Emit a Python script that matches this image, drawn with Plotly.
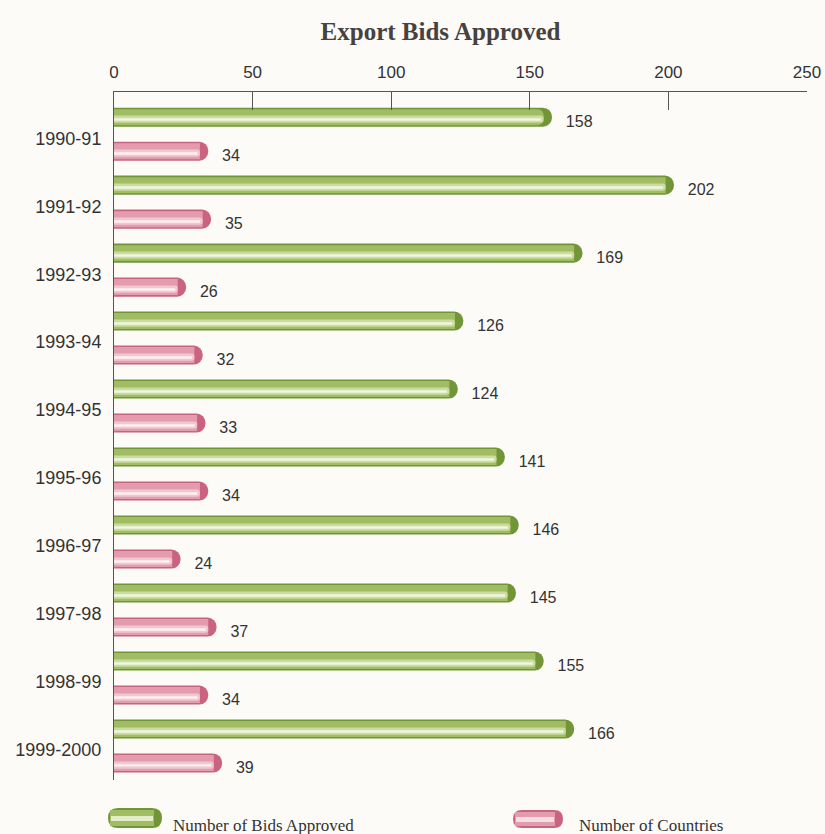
import plotly.graph_objects as go

# Export bids approved per financial year
years = ["1990-91", "1991-92", "1992-93", "1993-94", "1994-95",
         "1995-96", "1996-97", "1997-98", "1998-99", "1999-2000"]
bids_approved = [158, 202, 169, 126, 124, 141, 146, 145, 155, 166]
num_countries = [34, 35, 26, 32, 33, 34, 24, 37, 34, 39]
x_ticks = [0, 50, 100, 150, 200, 250]

# row positions: each year gets a green row followed by a pink row
green_pos = [2 * i for i in range(len(years))]
pink_pos = [2 * i + 1 for i in range(len(years))]
label_pos = [2 * i + 0.62 for i in range(len(years))]

BAR_W = 0.56
CAP = 3.0  # length of the darker end cap, in axis units

SANS = "Liberation Sans, Arial, sans-serif"
SERIF = "Liberation Serif, DejaVu Serif, serif"

fig = go.Figure()


def cylinder(values, pos, dark, mid, light, shine, name):
    """Layered horizontal bars giving a tube-like look."""
    inner = [v - CAP for v in values]
    # outer body (dark) — full value, rounded end
    fig.add_trace(go.Bar(x=values, y=pos, orientation="h", width=BAR_W,
                         marker=dict(color=dark, line_width=0, cornerradius=9),
                         name=name, showlegend=False, hoverinfo="x"))
    # main body tone
    fig.add_trace(go.Bar(x=inner, y=pos, orientation="h",
                         width=BAR_W * 0.84,
                         marker=dict(color=mid, line_width=0, cornerradius=6),
                         showlegend=False, hoverinfo="skip"))
    # light band
    fig.add_trace(go.Bar(x=inner, y=[p + 0.06 for p in pos], orientation="h",
                         width=BAR_W * 0.38,
                         marker=dict(color=light, line_width=0, cornerradius=3),
                         showlegend=False, hoverinfo="skip"))
    # thin highlight
    fig.add_trace(go.Bar(x=[v - CAP * 1.3 for v in values], y=[p + 0.07 for p in pos],
                         orientation="h", width=BAR_W * 0.13,
                         marker=dict(color=shine, line_width=0),
                         showlegend=False, hoverinfo="skip"))


cylinder(bids_approved, green_pos, "#729637", "#a0bd64", "#cadd9f", "#f1f5e2",
         "Number of Bids Approved")
cylinder(num_countries, pink_pos, "#c9637f", "#e39cae", "#f1c6d1", "#fcf0f3",
         "Number of Countries")

# value labels
label_font = dict(family=SANS, size=16, color="#333333")
fig.add_trace(go.Scatter(
    x=[v + 5 for v in bids_approved], y=[p + 0.18 for p in green_pos],
    mode="text", text=[str(v) for v in bids_approved], textposition="middle right",
    textfont=label_font, showlegend=False, hoverinfo="skip"))
fig.add_trace(go.Scatter(
    x=[v + 5 for v in num_countries], y=[p + 0.18 for p in pink_pos],
    mode="text", text=[str(v) for v in num_countries], textposition="middle right",
    textfont=label_font, showlegend=False, hoverinfo="skip"))

fig.update_layout(
    width=825, height=834,
    margin=dict(l=114, r=18, t=92, b=54, autoexpand=False),
    barmode="overlay",
    paper_bgcolor="#fcfbf8", plot_bgcolor="#fcfbf8",
    title=dict(text="<b>Export Bids Approved</b>", x=0.534, xanchor="center",
               y=0.962, yanchor="middle",
               font=dict(family=SERIF, size=25, color="#47423d")),
    xaxis=dict(side="top", range=[0, 250], tickvals=x_ticks, automargin=False,
               ticks="inside", ticklen=18, tickcolor="#555555", tickwidth=1,
               showline=True, linecolor="#555555", linewidth=1,
               showgrid=False, zeroline=False, ticklabelstandoff=6,
               tickfont=dict(family=SANS, size=17, color="#333333")),
    yaxis=dict(range=[19.5, -0.74], tickvals=label_pos, ticktext=years,
               automargin=False,
               showline=True, linecolor="#555555", linewidth=1,
               showgrid=False, zeroline=False, ticks="", ticklabelstandoff=8,
               tickfont=dict(family=SANS, size=18, color="#333333")),
)


def pill(x_paper, y_paper, w, h, dark, mid, light):
    """Rounded legend swatch drawn in pixel units around its anchor."""
    r = h / 2
    hw = w / 2
    path = (f"M {-hw + r} {-r} L {hw - r} {-r} Q {hw} {-r} {hw} 0 Q {hw} {r} {hw - r} {r} "
            f"L {-hw + r} {r} Q {-hw} {r} {-hw} 0 Q {-hw} {-r} {-hw + r} {-r} Z")
    common = dict(type="path", xref="paper", yref="paper", xsizemode="pixel",
                  ysizemode="pixel", xanchor=x_paper, yanchor=y_paper,
                  line_width=0, layer="above")
    fig.add_shape(path=path, fillcolor=dark, **common)
    fig.add_shape(path=f"M {-hw + 2} {-r + 2} L {hw - 8} {-r + 2} L {hw - 8} {r - 2} "
                       f"L {-hw + 2} {r - 2} Z", fillcolor=mid, **common)
    fig.add_shape(path=f"M {-hw + 3} -3 L {hw - 9} -3 L {hw - 9} 2 L {-hw + 3} 2 Z",
                  fillcolor=light, **common)


plot_w = 825 - 114 - 18
plot_h = 834 - 92 - 54


def px_x(px):
    return (px - 114) / plot_w


def px_y(py):
    return (834 - 54 - py) / plot_h


pill(px_x(135), px_y(818), 54, 20, "#729637", "#a0bd64", "#e3edc8")
pill(px_x(538), px_y(819), 50, 18, "#c9637f", "#e39cae", "#f6dde3")

legend_font = dict(family=SERIF, size=17, color="#333333")
fig.add_annotation(text="Number of Bids Approved", xref="paper", yref="paper",
                   x=px_x(171), y=px_y(825), xanchor="left", yanchor="middle",
                   showarrow=False, font=legend_font)
fig.add_annotation(text="Number of Countries", xref="paper", yref="paper",
                   x=px_x(577), y=px_y(825), xanchor="left", yanchor="middle",
                   showarrow=False, font=legend_font)

fig.write_html("out.html")
